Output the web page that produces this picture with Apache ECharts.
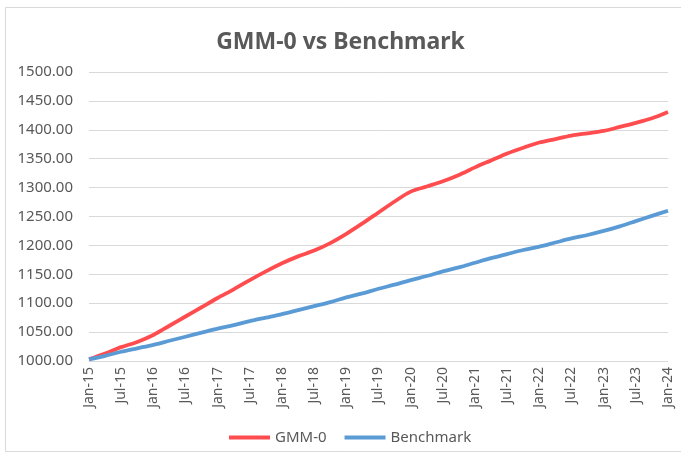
<!DOCTYPE html>
<html>
<head>
<meta charset="utf-8">
<script src="https://cdn.jsdelivr.net/npm/echarts@6/dist/echarts.min.js"></script>
<style>
	html, body { margin: 0; padding: 0; background: #fff; }
	#chart { width: 681px; height: 456px; }
</style>
</head>
<body>
<div id="chart"></div>
<script>
// quarterly dates, Jan-15 .. Jan-24
const months = ['Jan', 'Apr', 'Jul', 'Oct']
const categories = []
for (let y = 15; y <= 24; y++) {
	months.forEach(m => {
		if (y === 24 && m !== 'Jan') return
		categories.push(m + '-' + y)
	})
}

const gmmValues = [
	1003, 1013, 1024, 1033, 1045, 1061, 1077, 1093, 1109, 1124,
	1140, 1155, 1169, 1181, 1191, 1204, 1220, 1238, 1257, 1276,
	1293, 1302, 1311, 1322, 1335, 1347, 1359, 1369, 1378, 1384,
	1390, 1394, 1398, 1405, 1412, 1420, 1431
]
const benchValues = [
	1003, 1009, 1016, 1022, 1028, 1035, 1042, 1049, 1056, 1062,
	1069, 1075, 1081, 1088, 1095, 1102, 1110, 1117, 1125, 1132,
	1140, 1147, 1155, 1162, 1170, 1178, 1185, 1192, 1198, 1205,
	1212, 1218, 1225, 1233, 1242, 1251, 1260
]

const textColor = '#595959'
const gridColor = '#d9d9d9'
const font = 'Noto Sans'

const chart = echarts.init(document.getElementById('chart'))
chart.setOption({
	animation: false,
	textStyle: { fontFamily: font },
	title: {
		text: 'GMM-0 vs Benchmark',
		left: 'center',
		top: 26,
		textStyle: { color: textColor, fontSize: 23, fontWeight: 'bold', fontFamily: font },
	},
	graphic: [
		{
			type: 'rect',
			shape: { x: 5.5, y: 7.5, width: 700, height: 444 },
			style: { fill: 'none', stroke: gridColor, lineWidth: 1 },
			silent: true,
		},
	],
	legend: {
		bottom: 6,
		left: 224,
		itemWidth: 41,
		itemHeight: 4,
		itemGap: 18,
		icon: 'rect',
		textStyle: { color: textColor, fontSize: 15 },
		data: ['GMM-0', 'Benchmark'],
	},
	grid: { left: 89, right: 13, top: 72, bottom: 95, containLabel: false },
	xAxis: {
		type: 'category',
		data: categories,
		boundaryGap: false,
		axisLine: { lineStyle: { color: gridColor } },
		axisTick: { show: false },
		axisLabel: {
			interval: 1,
			rotate: 90,
			color: textColor,
			fontSize: 14,
			margin: 6,
		},
	},
	yAxis: {
		type: 'value',
		min: 1000,
		max: 1500,
		interval: 50,
		axisLine: { show: false },
		axisTick: { show: false },
		splitLine: { lineStyle: { color: gridColor } },
		axisLabel: {
			color: textColor,
			fontSize: 15,
			margin: 16,
			formatter: v => v.toFixed(2),
		},
	},
	series: [
		{
			name: 'GMM-0',
			type: 'line',
			data: gmmValues,
			smooth: 0.3,
			symbol: 'none',
			lineStyle: { color: '#ff4d4f', width: 3.8 },
			itemStyle: { color: '#ff4d4f' },
		},
		{
			name: 'Benchmark',
			type: 'line',
			data: benchValues,
			smooth: 0.3,
			symbol: 'none',
			lineStyle: { color: '#5b9bd5', width: 3.8 },
			itemStyle: { color: '#5b9bd5' },
		},
	],
})
</script>
</body>
</html>
